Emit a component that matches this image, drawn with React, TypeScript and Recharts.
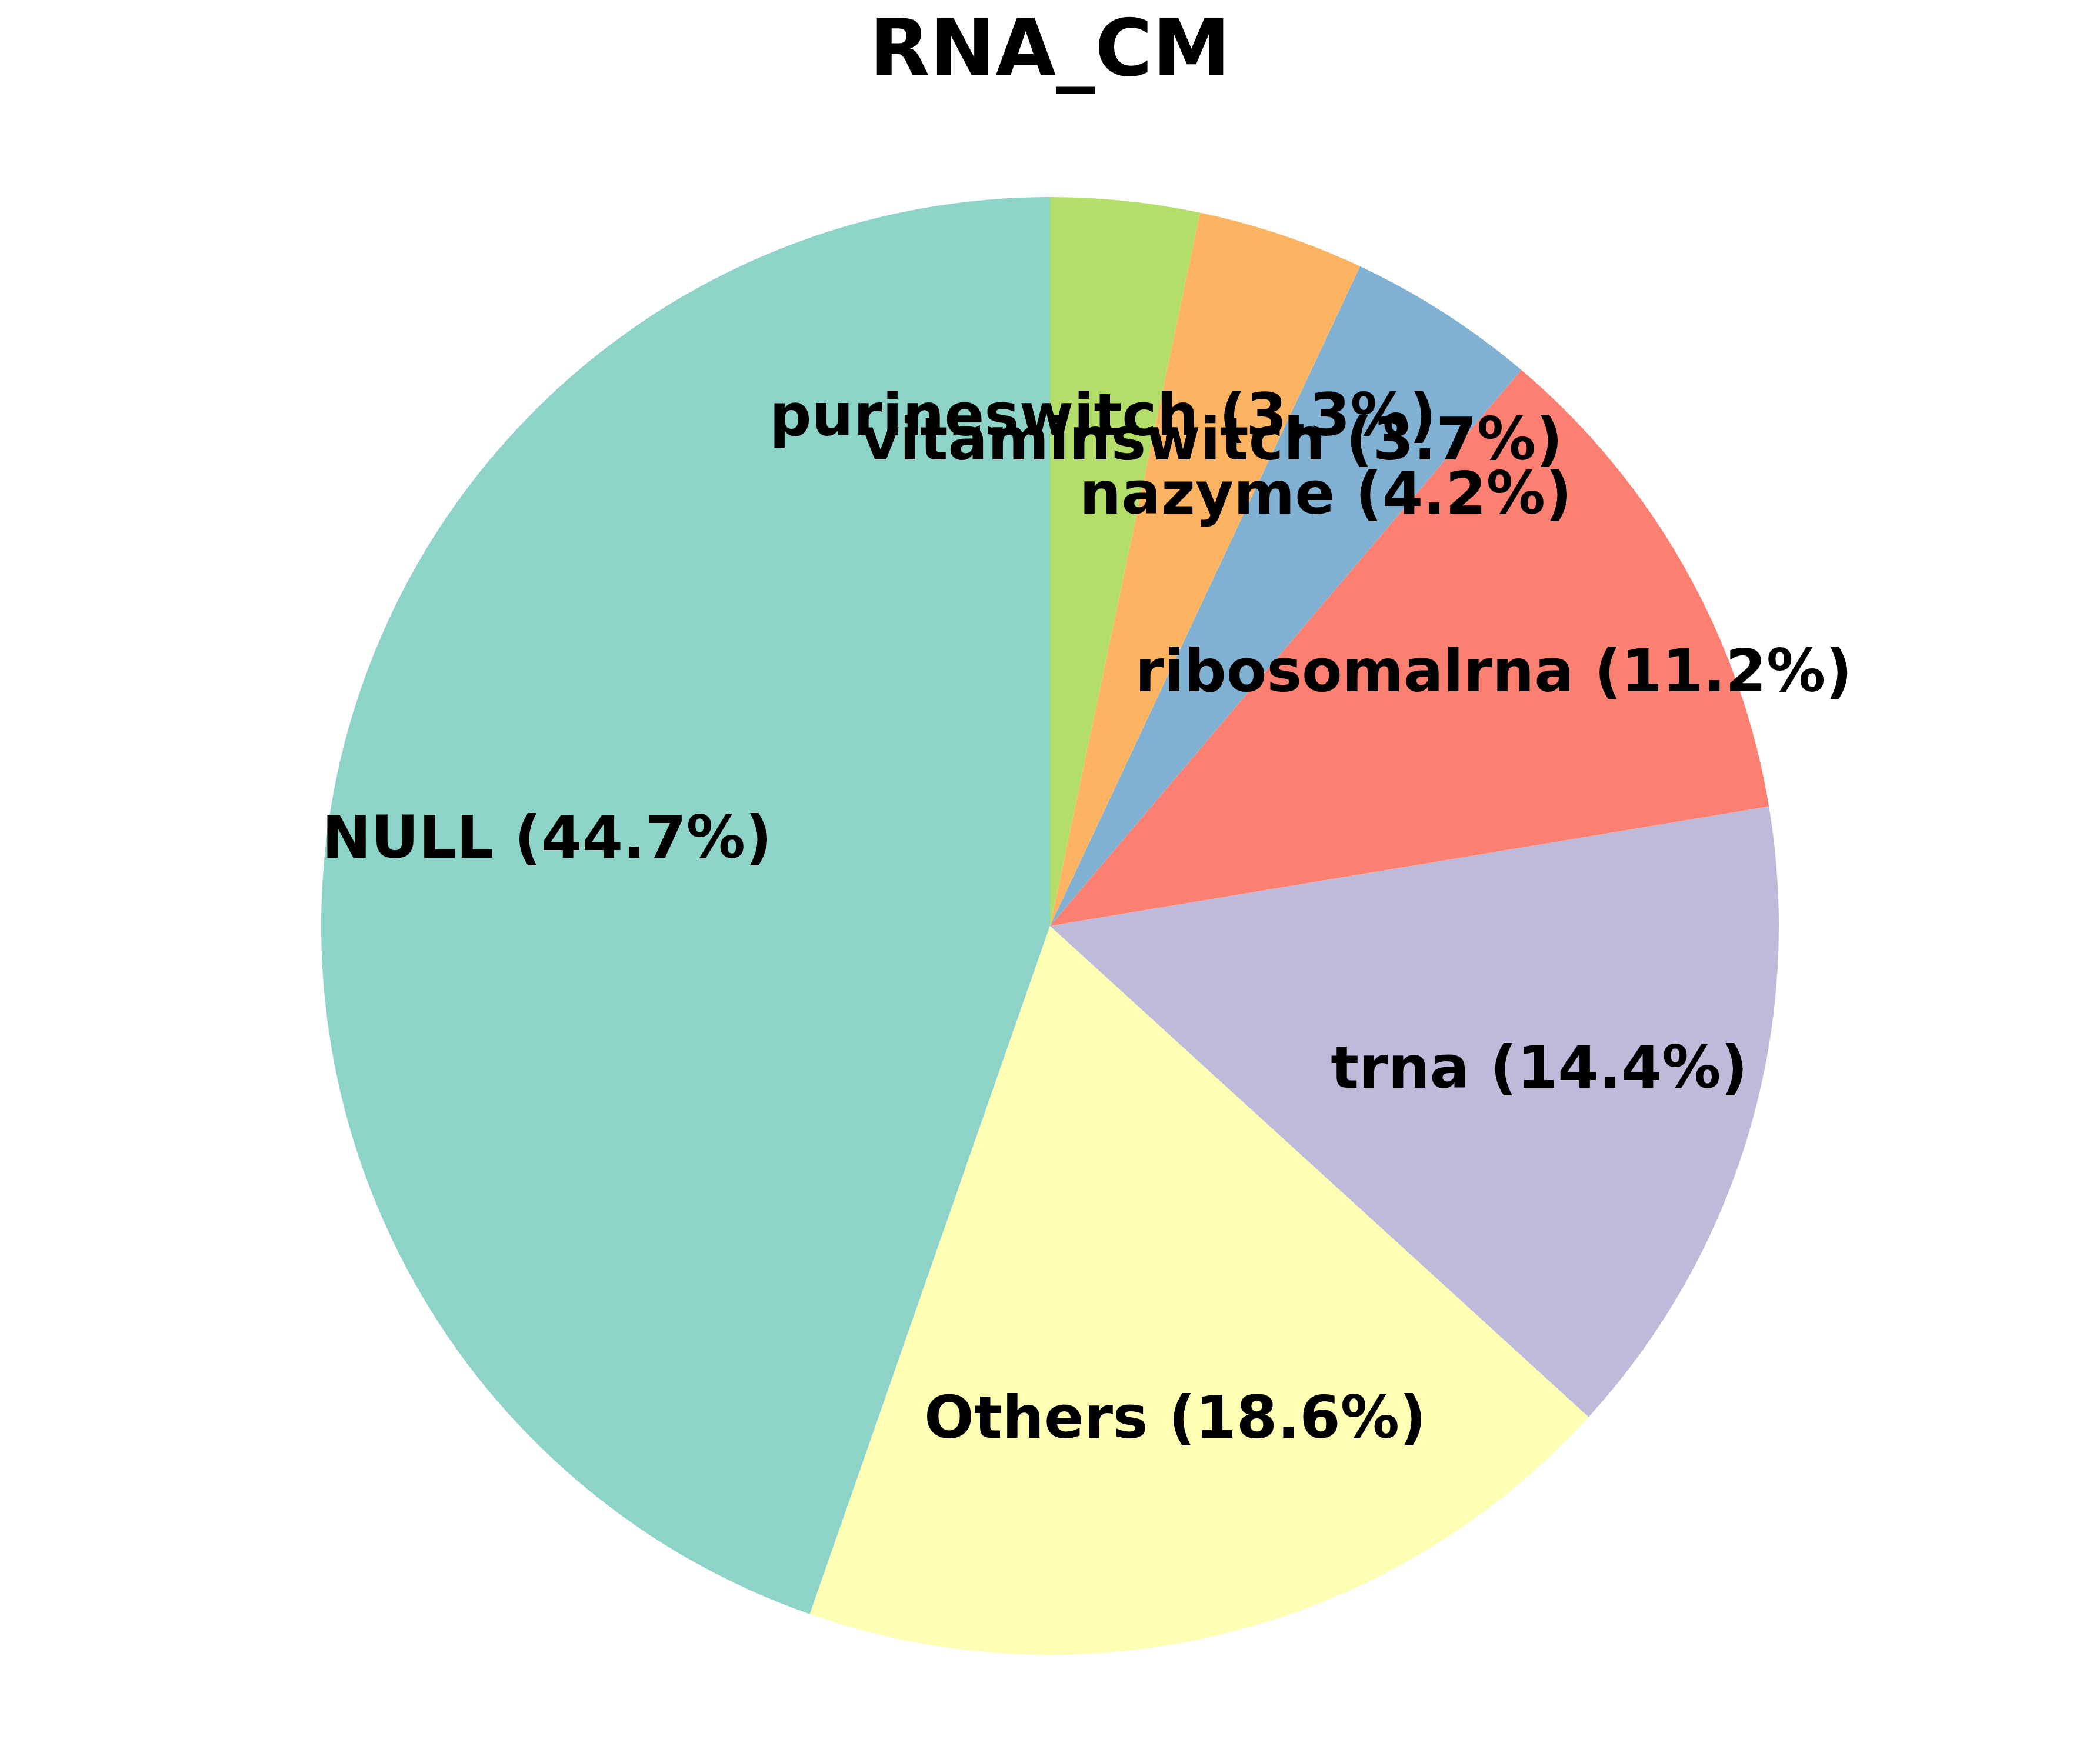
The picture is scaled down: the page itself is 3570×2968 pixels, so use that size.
import { Cell, Pie, PieChart } from 'recharts';

const categories = ['NULL', 'Others', 'trna', 'ribosomalrna', 'nazyme', 'vitaminswitch', 'purineswitch'];
const shares = [44.7, 18.6, 14.4, 11.2, 4.2, 3.7, 3.3];
const colors = ['#8dd3c7', '#ffffb3', '#bebada', '#fb8072', '#80b1d3', '#fdb462', '#b3de69'];

const data = categories.map((name, i) => ({ name, value: shares[i] }));
const total = shares.reduce((a, b) => a + b, 0);

const RAD = Math.PI / 180;
const FONT = '"DejaVu Sans", sans-serif';

function renderLabel({ cx, cy, midAngle, outerRadius, name, value }) {
  const r = outerRadius * 0.7;
  const x = cx + r * Math.cos(-midAngle * RAD);
  const y = cy + r * Math.sin(-midAngle * RAD);
  const pct = ((value / total) * 100).toFixed(1);
  return (
    <text x={x} y={y + 29} textAnchor="middle" fill="#000" fontFamily={FONT} fontWeight="bold" fontSize={100}>
      {name} ({pct}%)
    </text>
  );
}

export default function App() {
  return (
    <div style={{ position: 'absolute', left: 0, top: 0, width: 3570, height: 2968, background: '#fff' }}>
      <svg width={3570} height={200} style={{ position: 'absolute', left: 0, top: 0 }}>
        <text x={1785} y={128} textAnchor="middle" fill="#000" fontFamily={FONT} fontWeight="bold" fontSize={133}>
          RNA_CM
        </text>
      </svg>
      <PieChart width={3570} height={2968} margin={{ top: 0, right: 0, bottom: 0, left: 0 }}>
        <Pie
          data={data}
          dataKey="value"
          nameKey="name"
          cx={1785}
          cy={1574}
          outerRadius={1239}
          startAngle={90}
          endAngle={450}
          stroke="none"
          label={renderLabel}
          labelLine={false}
          isAnimationActive={false}
        >
          {data.map((d, i) => (
            <Cell key={d.name} fill={colors[i]} stroke="none" />
          ))}
        </Pie>
      </PieChart>
    </div>
  );
}
